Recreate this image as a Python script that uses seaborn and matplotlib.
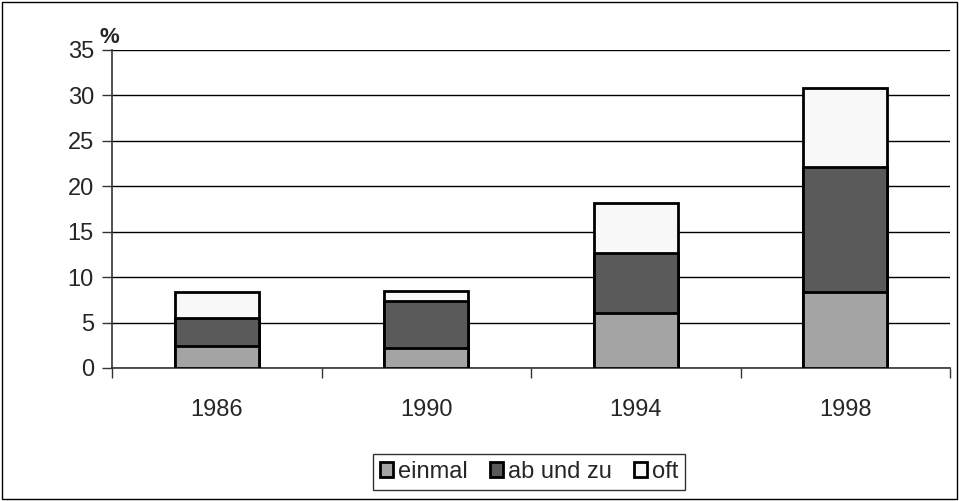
import numpy as np
import pandas as pd
import matplotlib
matplotlib.use("Agg")
import matplotlib.pyplot as plt
import matplotlib.patches as mpatches
import seaborn as sns

# ─── Data ─────────────────────────────────────────────────────────────────────

years = ["1986", "1990", "1994", "1998"]
einmal = [2.4, 2.2, 6.0, 8.4]
ab_und_zu = [3.1, 5.2, 6.7, 13.7]
oft = [2.9, 1.1, 5.5, 8.7]

series_names = ["einmal", "ab und zu", "oft"]
colors = ["#a4a4a4", "#5a5a5a", "#f8f8f8"]

df = pd.DataFrame({"Jahr": years, "einmal": einmal, "ab und zu": ab_und_zu, "oft": oft})
df["c1"] = df["einmal"]
df["c2"] = df["c1"] + df["ab und zu"]
df["c3"] = df["c2"] + df["oft"]

# ─── Plot ─────────────────────────────────────────────────────────────────────

sns.set_style("white")
plt.rcParams["font.family"] = ["Liberation Sans", "DejaVu Sans"]
FS = 17

fig = plt.figure(figsize=(9.59, 5.01), dpi=100)
ax = fig.add_axes([0.1168, 0.2655, 0.874, 0.6347])

for col, color in zip(["c3", "c2", "c1"], colors[::-1]):
    sns.barplot(data=df, x="Jahr", y=col, color=color, width=0.4,
                edgecolor="black", linewidth=2, saturation=1, ax=ax, zorder=3)

ax.set_ylim(0, 35)
ax.set_xlim(-0.5, 3.5)
ax.set_yticks(np.arange(0, 36, 5))
ax.yaxis.grid(True, color="black", linewidth=1)
ax.set_axisbelow(True)
ax.set_xlabel("")
ax.set_ylabel("")

for side in ["top", "right"]:
    ax.spines[side].set_visible(False)
for side in ["left", "bottom"]:
    ax.spines[side].set_color("#333333")
    ax.spines[side].set_linewidth(1.2)

ax.tick_params(axis="y", which="major", direction="out", length=7, width=1, color="#333333",
               labelsize=FS, pad=6, left=True)
ax.tick_params(axis="x", which="major", length=0, labelsize=FS, pad=22)
ax.set_xticks(np.arange(-0.5, 4.0, 1.0), minor=True)
ax.tick_params(axis="x", which="minor", direction="out", length=7, width=1, color="#333333", bottom=True)

fig.text(0.104, 0.905, "%", fontsize=FS - 1, fontweight="bold", ha="left", va="bottom")

handles = [mpatches.Patch(facecolor=c, edgecolor="black", linewidth=2, label=n)
           for c, n in zip(colors, series_names)]
leg = fig.legend(handles=handles, loc="center", bbox_to_anchor=(0.552, 0.058), ncol=3,
                 fontsize=FS, frameon=True, fancybox=False, handlelength=0.55,
                 handleheight=0.55, handletextpad=0.2, columnspacing=0.95,
                 borderpad=0.3, borderaxespad=0)
leg.get_frame().set_edgecolor("black")
leg.get_frame().set_linewidth(1)

fig.patches.append(mpatches.Rectangle((0.002, 0.003), 0.996, 0.994, transform=fig.transFigure,
                                      fill=False, edgecolor="black", linewidth=1))

plt.savefig("out.png", dpi=100)
plt.close()
